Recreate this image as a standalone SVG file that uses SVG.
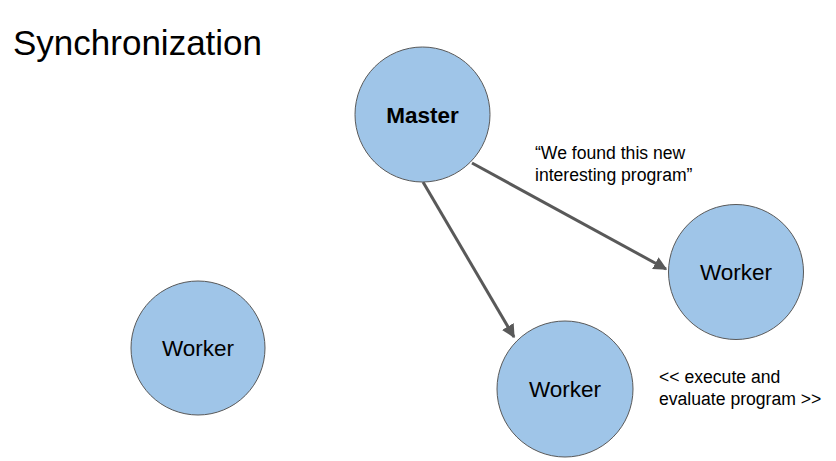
<svg xmlns="http://www.w3.org/2000/svg" width="836" height="461" viewBox="0 0 836 461">
<style>
.node{fill:#9fc5e8;stroke:#595959;stroke-width:1}
.lbl{font-family:"Liberation Sans",Arial,sans-serif;font-size:22.5px;fill:#000;text-anchor:middle}
.note{font-family:"Liberation Sans",Arial,sans-serif;font-size:17.6px;fill:#000}
.edge{stroke:#595959;stroke-width:3;fill:none}
</style>
<defs>
<marker id="ah" viewBox="0 0 10 10" refX="9" refY="5" markerWidth="4.5" markerHeight="4.5" orient="auto" markerUnits="strokeWidth">
<path d="M0,0 L10,5 L0,10 z" fill="#595959"/>
</marker>
</defs>
<rect width="836" height="461" fill="#fff"/>
<text x="13" y="55" font-family="Liberation Sans,Arial,sans-serif" font-size="35" fill="#000">Synchronization</text>
<g id="connectors">
<line class="edge" x1="472" y1="163" x2="666" y2="269" marker-end="url(#ah)"/>
<line class="edge" x1="423" y1="182" x2="514" y2="337" marker-end="url(#ah)"/>
</g>
<g id="master">
<circle class="node" cx="422.5" cy="114.5" r="67.5"/>
<text class="lbl" x="422.5" y="123" font-weight="bold">Master</text>
</g>
<g id="worker-right">
<circle class="node" cx="736" cy="272" r="67.5"/>
<text class="lbl" x="736" y="280">Worker</text>
</g>
<g id="worker-bottom">
<circle class="node" cx="565" cy="389" r="68"/>
<text class="lbl" x="565" y="397">Worker</text>
</g>
<g id="worker-left">
<circle class="node" cx="198" cy="348" r="67"/>
<text class="lbl" x="198" y="356">Worker</text>
</g>
<g id="notes">
<text class="note" x="535" y="159">“We found this new</text>
<text class="note" x="535" y="181">interesting program”</text>
<text class="note" x="659" y="383">&lt;&lt; execute and</text>
<text class="note" x="659" y="405">evaluate program &gt;&gt;</text>
</g>
</svg>
